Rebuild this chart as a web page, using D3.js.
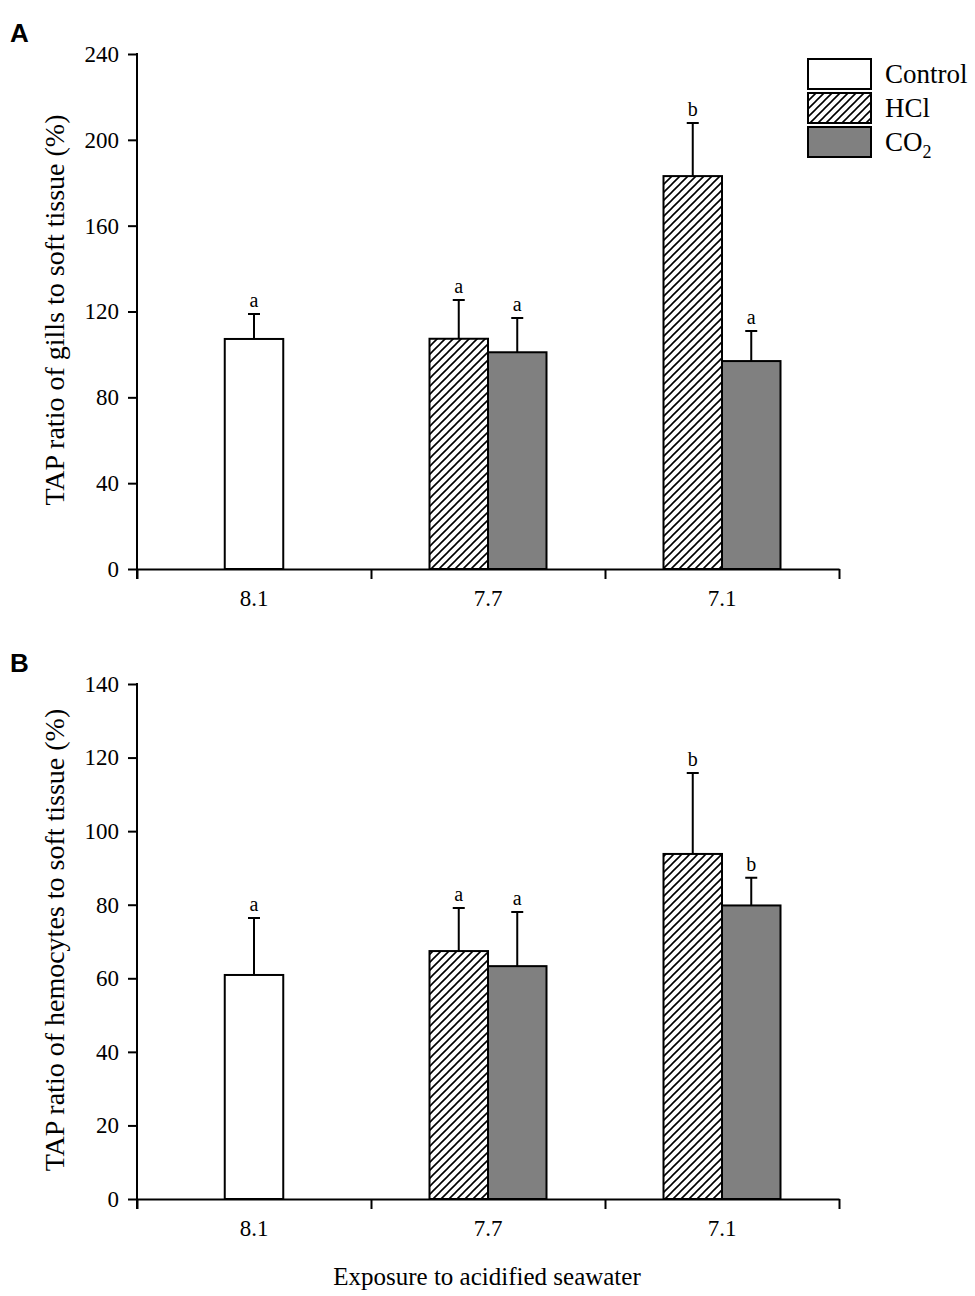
<!DOCTYPE html>
<html>
<head>
<meta charset="utf-8">
<script src="https://cdn.jsdelivr.net/npm/d3@7"></script>
<style>
body { margin: 0; background: #fff; }
svg text { font-family: "Liberation Serif", "Times New Roman", serif; fill: #000; }
</style>
</head>
<body>
<div id="chart"></div>
<script>
// Categories
const groups = ["8.1", "7.7", "7.1"];
const seriesNames = ["Control", "HCl", "CO2"];

// Panel A - gills (means, upper error, letters) per series
const gillsControl = [107.2, null, null];
const gillsHCl     = [null, 107.3, 183.1];
const gillsCO2     = [null, 101.0, 96.9];
const gillsControlErr = [11.6, null, null];
const gillsHClErr     = [null, 18.1, 24.7];
const gillsCO2Err     = [null, 16.0, 14.0];
const gillsLetters = { Control: ["a", null, null], HCl: [null, "a", "b"], CO2: [null, "a", "a"] };

// Panel B - hemocytes
const hemoControl = [60.9, null, null];
const hemoHCl     = [null, 67.4, 93.8];
const hemoCO2     = [null, 63.3, 79.8];
const hemoControlErr = [15.5, null, null];
const hemoHClErr     = [null, 11.7, 22.0];
const hemoCO2Err     = [null, 14.7, 7.5];
const hemoLetters = { Control: ["a", null, null], HCl: [null, "a", "b"], CO2: [null, "a", "b"] };

const ticksA = [0, 40, 80, 120, 160, 200, 240];
const ticksB = [0, 20, 40, 60, 80, 100, 120, 140];

const W = 975, H = 1296;
const svg = d3.select("#chart").append("svg")
  .attr("width", W).attr("height", H);

// hatch pattern for HCl
const defs = svg.append("defs");
const pat = defs.append("pattern")
  .attr("id", "hatch")
  .attr("patternUnits", "userSpaceOnUse")
  .attr("width", 8).attr("height", 8);
pat.append("rect").attr("width", 8).attr("height", 8).attr("fill", "#fff");
pat.append("path")
  .attr("d", "M-1,1 l2,-2 M0,8 l8,-8 M7,9 l2,-2")
  .attr("stroke", "#000").attr("stroke-width", 1.6);

const fills = { Control: "#fff", HCl: "url(#hatch)", CO2: "#808080" };

function drawPanel(cfg) {
  const g = svg.append("g");
  const x = d3.scaleBand().domain(groups).range([137, 839]).padding(0);
  const bw = x.bandwidth() / 4;
  const y = d3.scaleLinear().domain([0, cfg.max]).range([cfg.y0, cfg.y0 - 515]);

  // build rows: bars present in each group sit centred side by side
  const rows = [];
  groups.forEach((grp, i) => {
    const present = seriesNames.filter(s => cfg.means[s][i] != null);
    present.forEach((s, j) => {
      const left = x(grp) + x.bandwidth() / 2 - present.length * bw / 2 + j * bw;
      rows.push({ grp, s, left, v: cfg.means[s][i], e: cfg.errs[s][i], lab: cfg.letters[s][i] });
    });
  });

  // error bars (behind bars)
  g.selectAll(".err").data(rows).enter().append("path")
    .attr("d", d => {
      const cx = d.left + bw / 2, top = y(d.v + d.e);
      return `M${cx},${y(d.v)}V${top}M${cx - 6},${top}H${cx + 6}`;
    })
    .attr("stroke", "#000").attr("stroke-width", 2).attr("fill", "none");

  g.selectAll(".bar").data(rows).enter().append("rect")
    .attr("x", d => d.left)
    .attr("y", d => y(d.v))
    .attr("width", bw)
    .attr("height", d => y(0) - y(d.v))
    .attr("fill", d => fills[d.s])
    .attr("stroke", "#000").attr("stroke-width", 2);

  g.selectAll(".lab").data(rows).enter().append("text")
    .attr("x", d => d.left + bw / 2)
    .attr("y", d => y(d.v + d.e) - 7)
    .attr("text-anchor", "middle")
    .style("font-size", "20px")
    .text(d => d.lab);

  // y axis
  const yAxis = d3.axisLeft(y).tickValues(cfg.ticks).tickSize(9).tickSizeOuter(0).tickPadding(9);
  const ya = g.append("g").attr("transform", "translate(137,0)").call(yAxis);
  ya.select(".domain").remove();
  ya.selectAll("line").attr("stroke-width", 2);
  ya.selectAll("text").style("font-size", "23px").style("font-family", "Liberation Serif");
  g.append("line").attr("x1", 137).attr("x2", 137).attr("y1", y(cfg.max) - 1).attr("y2", y(0) + 10)
    .attr("stroke", "#000").attr("stroke-width", 2);

  // x axis: boundary ticks + centred labels
  const xb = d3.scaleLinear().domain([0, 3]).range([137, 839]);
  const xAx = g.append("g").attr("transform", `translate(0,${y(0)})`)
    .call(d3.axisBottom(xb).tickValues([0, 1, 2, 3]).tickSize(10).tickSizeOuter(0).tickFormat(""));
  xAx.selectAll("line").attr("stroke-width", 2);
  xAx.select(".domain").attr("stroke-width", 2);
  const xl = g.append("g").attr("transform", `translate(0,${y(0)})`)
    .call(d3.axisBottom(x).tickSize(0).tickPadding(21));
  xl.select(".domain").remove();
  xl.selectAll("text").style("font-size", "23px").style("font-family", "Liberation Serif");

  // y title
  g.append("text")
    .attr("transform", `translate(64,${cfg.y0 - 259}) rotate(-90)`)
    .attr("text-anchor", "middle")
    .style("font-size", "28px")
    .text(cfg.title);

  // panel letter
  g.append("text")
    .attr("x", 10).attr("y", cfg.y0 - 527)
    .style("font-family", "Liberation Sans, Arial, sans-serif")
    .style("font-weight", "bold").style("font-size", "26px")
    .text(cfg.tag);
  return g;
}

drawPanel({
  y0: 569, max: 240, ticks: ticksA, tag: "A",
  title: "TAP ratio of gills to soft tissue (%)",
  means: { Control: gillsControl, HCl: gillsHCl, CO2: gillsCO2 },
  errs: { Control: gillsControlErr, HCl: gillsHClErr, CO2: gillsCO2Err },
  letters: gillsLetters
});
drawPanel({
  y0: 1199, max: 140, ticks: ticksB, tag: "B",
  title: "TAP ratio of hemocytes to soft tissue (%)",
  means: { Control: hemoControl, HCl: hemoHCl, CO2: hemoCO2 },
  errs: { Control: hemoControlErr, HCl: hemoHClErr, CO2: hemoCO2Err },
  letters: hemoLetters
});

// x title
svg.append("text").attr("x", 487).attr("y", 1285).attr("text-anchor", "middle")
  .style("font-size", "25px").text("Exposure to acidified seawater");

// legend
const legend = svg.append("g").attr("transform", "translate(808,59)");
const leg = legend.selectAll("g").data(seriesNames).enter().append("g")
  .attr("transform", (d, i) => `translate(0,${i * 34})`);
leg.append("rect").attr("width", 63).attr("height", 30)
  .attr("fill", d => fills[d]).attr("stroke", "#000").attr("stroke-width", 2);
leg.append("text").attr("x", 77).attr("y", 24).style("font-size", "27px")
  .each(function(d) {
    const t = d3.select(this);
    if (d === "CO2") {
      t.append("tspan").text("CO");
      t.append("tspan").attr("dy", 7).style("font-size", "18px").text("2");
    } else t.text(d);
  });
</script>
</body>
</html>
